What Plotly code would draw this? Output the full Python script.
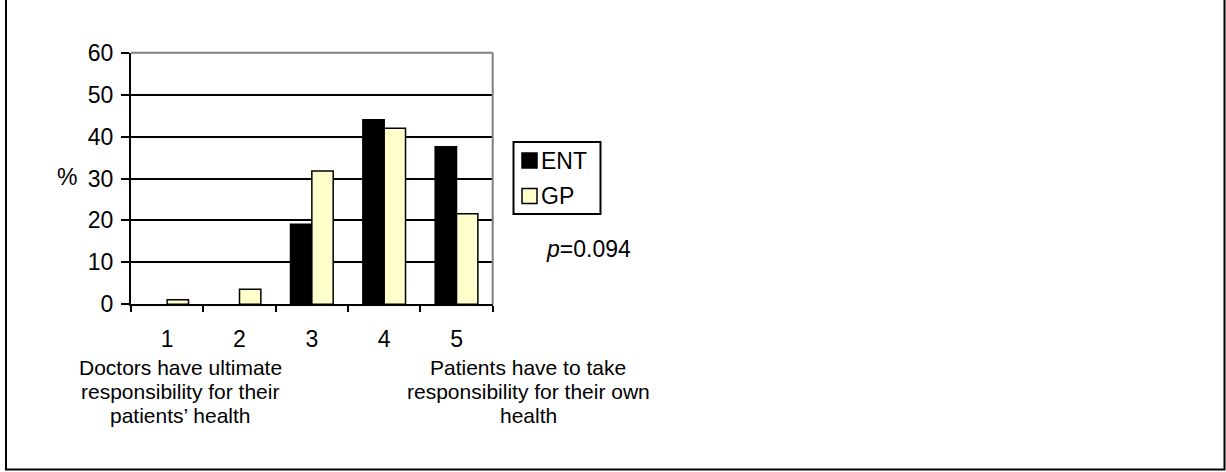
import plotly.graph_objects as go

# Survey responses on a 1-5 scale, percent of respondents per group
categories = ["1", "2", "3", "4", "5"]
ent_pct = [0, 0, 19.1, 44.0, 37.6]
gp_pct = [1.1, 3.6, 31.8, 42.0, 21.6]
y_ticks = [0, 10, 20, 30, 40, 50, 60]
series_names = ["ENT", "GP"]
series_colors = ["#000000", "#FFFFCC"]
p_value = "0.094"

left_anchor = ["Doctors have ultimate", "responsibility for their", "patients\u2019 health"]
right_anchor = ["Patients have to take", "responsibility for their own", "health"]

W, H = 1226, 472
FONT = "Liberation Sans, Arial, sans-serif"
FS = 23
FS_NOTE = 21


def px_x(x):
    return x / W


def px_y(y):
    return 1 - y / H


def outline_widths(values, w=1.5):
    # no outline on empty bars
    return [w if v > 0 else 0 for v in values]


fig = go.Figure()
for name, color, vals in zip(series_names, series_colors, (ent_pct, gp_pct)):
    fig.add_trace(go.Bar(
        x=categories, y=vals, name=name, showlegend=False,
        marker=dict(color=color, line=dict(color="#000000", width=outline_widths(vals))),
    ))

plot_l, plot_r, plot_t, plot_b = 131, 492.7, 52.7, 304.3

fig.update_layout(
    width=W, height=H, autosize=False,
    margin=dict(l=0, r=0, t=0, b=0, pad=0),
    paper_bgcolor="white", plot_bgcolor="white",
    barmode="group", bargap=0.41, bargroupgap=0,
    font=dict(family=FONT, size=FS, color="#000000"),
    showlegend=False,
    xaxis=dict(
        domain=[px_x(plot_l), px_x(plot_r)], automargin=False,
        showline=True, linecolor="#000000", linewidth=2,
        ticks="outside", tickson="boundaries", ticklen=6, tickwidth=2, tickcolor="#000000",
        ticklabelstandoff=13,
        showgrid=False, zeroline=False,
        tickfont=dict(family=FONT, size=FS),
    ),
    yaxis=dict(
        domain=[px_y(plot_b), px_y(plot_t)], automargin=False,
        range=[0, 60], tickvals=y_ticks,
        showline=True, linecolor="#000000", linewidth=2,
        ticks="outside", ticklen=8, tickwidth=2, tickcolor="#000000",
        ticklabelstandoff=3,
        showgrid=True, gridcolor="#000000", gridwidth=1.5,
        zeroline=False,
        tickfont=dict(family=FONT, size=FS),
    ),
)

# gray top and right edges of the plot area
fig.add_shape(type="line", xref="paper", yref="paper",
              x0=px_x(plot_l), x1=px_x(plot_r), y0=px_y(plot_t), y1=px_y(plot_t),
              line=dict(color="#808080", width=2), layer="above")
fig.add_shape(type="line", xref="paper", yref="paper",
              x0=px_x(plot_r), x1=px_x(plot_r), y0=px_y(plot_t), y1=px_y(plot_b),
              line=dict(color="#808080", width=2), layer="above")

# outer frame around the chart
fig.add_shape(type="rect", xref="paper", yref="paper",
              x0=px_x(6), x1=px_x(1224.5), y0=px_y(469.5), y1=1.2,
              line=dict(color="#000000", width=2), fillcolor="rgba(0,0,0,0)")

# legend: framed box with a swatch and label per series
fig.add_shape(type="rect", xref="paper", yref="paper",
              x0=px_x(513.5), x1=px_x(600.5), y0=px_y(214), y1=px_y(142),
              line=dict(color="#000000", width=2), fillcolor="white")
for i, (name, color) in enumerate(zip(series_names, series_colors)):
    cy = 160.5 + i * 35.5
    fig.add_shape(type="rect", xref="paper", yref="paper",
                  x0=px_x(522), x1=px_x(537), y0=px_y(cy + 7.5), y1=px_y(cy - 7.5),
                  line=dict(color="#000000", width=1.5), fillcolor=color)
    fig.add_annotation(text=name, xref="paper", yref="paper",
                       x=px_x(540), y=px_y(cy), showarrow=False,
                       xanchor="left", yanchor="middle", borderpad=0,
                       font=dict(family=FONT, size=FS))

# axis title
fig.add_annotation(text="%", xref="paper", yref="paper", x=px_x(67), y=px_y(177),
                   showarrow=False, xanchor="center", yanchor="middle",
                   font=dict(family=FONT, size=FS))

# significance note
fig.add_annotation(text="<i>p</i>=" + p_value, xref="paper", yref="paper",
                   x=px_x(588), y=px_y(249), showarrow=False,
                   xanchor="center", yanchor="middle", font=dict(family=FONT, size=FS))

# scale anchor descriptions under the axis, tightly set lines
line_ys = [367, 391, 415]
for cx, lines in ((180, left_anchor), (528, right_anchor)):
    for ly, txt in zip(line_ys, lines):
        fig.add_annotation(text=txt, xref="paper", yref="paper",
                           x=px_x(cx), y=px_y(ly), showarrow=False,
                           xanchor="center", yanchor="middle",
                           borderpad=0, font=dict(family=FONT, size=FS_NOTE))

fig.write_html("out.html")
